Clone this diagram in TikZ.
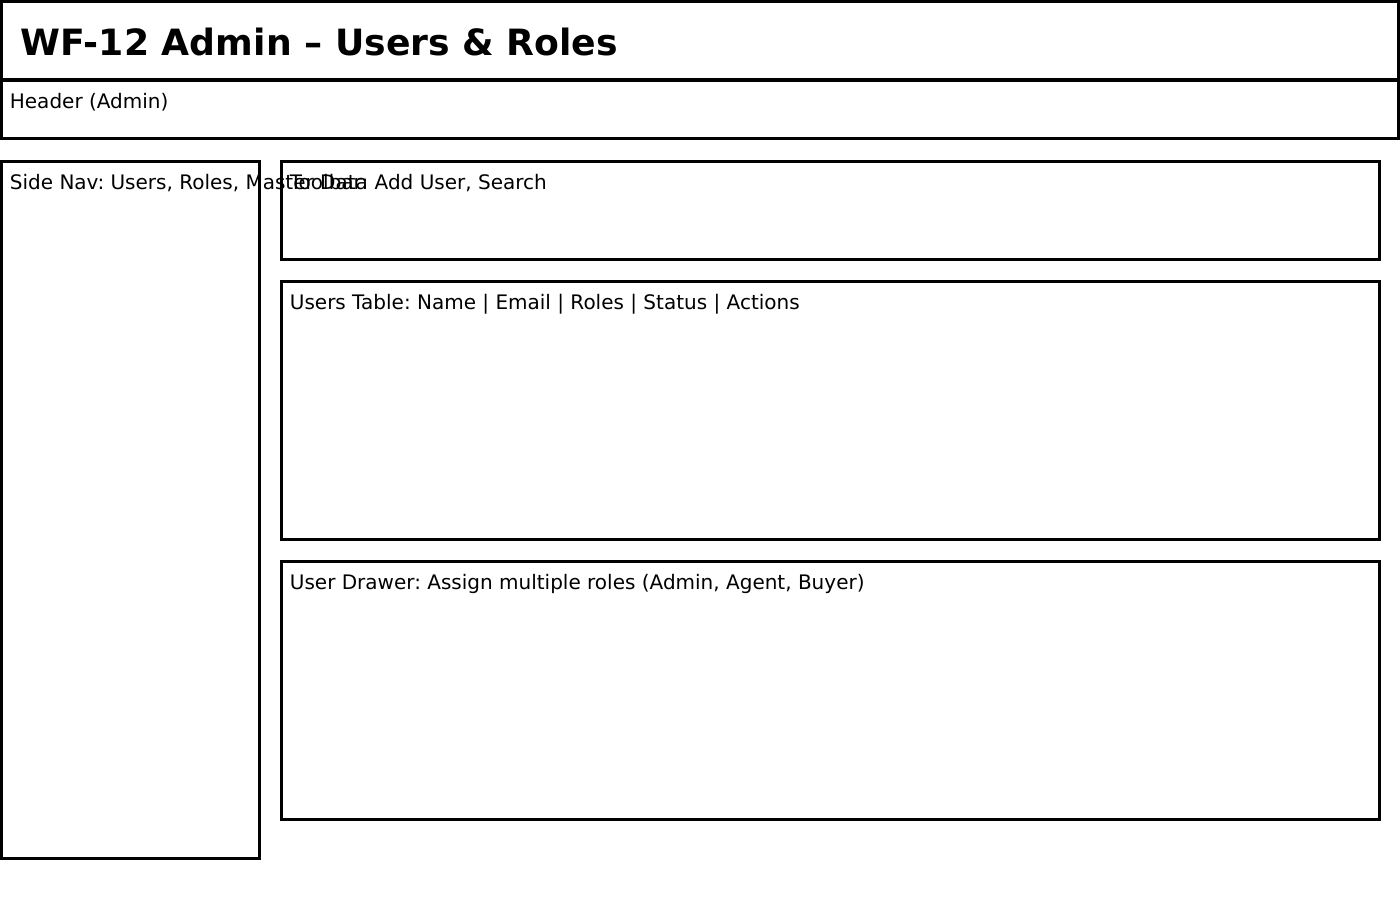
\documentclass[tikz,border=0pt]{standalone}
\usepackage{fontspec}
\setmainfont{DejaVu Sans}
\usetikzlibrary{positioning}
\frenchspacing

\begin{document}
\begin{tikzpicture}[
  x=0.5pt, y=-0.5pt,
  box/.style={draw, line width=1.5pt, anchor=north west, inner sep=0pt, outer sep=0pt},
  lbl/.style={anchor=base west, inner sep=0pt, font=\fontsize{10pt}{12pt}\selectfont, xshift=4pt, yshift=-14pt},
  ttl/.style={anchor=base west, inner sep=0pt, font=\fontsize{18.1pt}{22pt}\selectfont\bfseries, xshift=9.25pt, yshift=-26.75pt}
]
  \useasboundingbox (0,0) rectangle (1400,900);
  % frame boxes
  \node[box, minimum width=698.5pt, minimum height=39pt] (titlebar) at (1.5,1.5) {};
  \node[box, minimum width=698.5pt, minimum height=29pt] (header) at (1.5,80.5) {};
  \node[box, minimum width=129pt, minimum height=348.5pt] (sidenav) at (1.5,161.5) {};
  \node[box, minimum width=549pt, minimum height=49pt] (toolbar) at (281.5,161.5) {};
  \node[box, minimum width=549pt, minimum height=129pt] (userstable) at (281.5,281.5) {};
  \node[box, minimum width=549pt, minimum height=129pt] (userdrawer) at (281.5,561.5) {};
  % labels
  \node[ttl] (titletext) at (titlebar.north west) {WF-12 Admin – Users \& Roles};
  \node[lbl] (headertext) at (header.north west) {Header (Admin)};
  \node[lbl] (sidenavtext) at (sidenav.north west) {Side Nav: Users, Roles, Master Data};
  \node[lbl] (toolbartext) at (toolbar.north west) {Toolbar: Add User, Search};
  \node[lbl] (tabletext) at (userstable.north west) {Users Table: Name | Email | Roles | Status | Actions};
  \node[lbl] (drawertext) at (userdrawer.north west) {User Drawer: Assign multiple roles (Admin, Agent, Buyer)};
\end{tikzpicture}
\end{document}
